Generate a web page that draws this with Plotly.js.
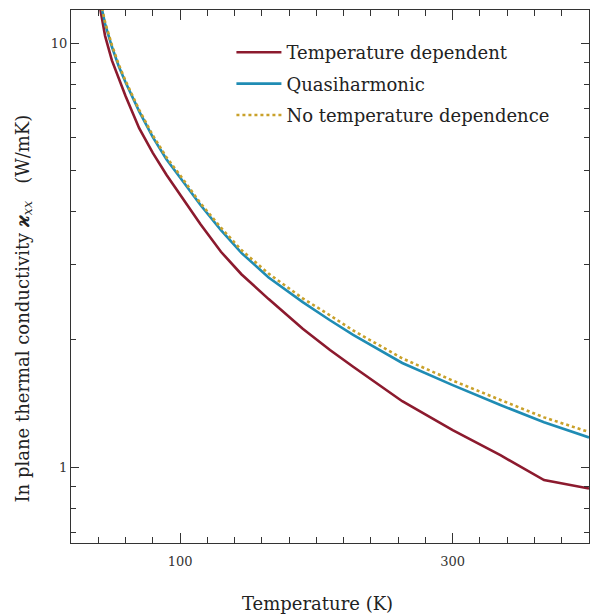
<!DOCTYPE html>
<html>
<head>
<meta charset="utf-8">
<script src="https://cdn.plot.ly/plotly-3.0.1.min.js"></script>
<style>html,body{margin:0;padding:0;background:#fff;}#chart{width:590px;height:614px;}</style>
</head>
<body>
<div id="chart"></div>
<script>
// Temperature grid (K)
const temperature = [40, 45, 50, 55, 60, 70, 80, 90, 100, 115, 130, 145, 165, 190, 210, 227, 263, 300, 335, 367, 400];
// In-plane thermal conductivity kappa_xx (W/mK)
const kappaTempDependent = [12.8, 10.4, 9.1, 8.22, 7.50, 6.30, 5.51, 4.89, 4.39, 3.74, 3.22, 2.85, 2.49, 2.12, 1.888, 1.724, 1.43, 1.223, 1.067, 0.932, 0.89];
const kappaQuasiharmonic = [13.2, 11.1, 9.8, 8.82, 8.08, 6.90, 6.00, 5.32, 4.82, 4.15, 3.62, 3.20, 2.80, 2.45, 2.22, 2.05, 1.76, 1.561, 1.401, 1.276, 1.175];
const kappaNoTempDep = [13.3, 11.2, 9.9, 8.9, 8.15, 6.96, 6.06, 5.38, 4.88, 4.19, 3.67, 3.25, 2.86, 2.50, 2.28, 2.10, 1.805, 1.60, 1.44, 1.31, 1.21];
const seriesNames = ["Temperature dependent", "Quasiharmonic", "No temperature dependence"];
const xTitle = "Temperature (K)";
const yTitle = "In plane thermal conductivity <b><i>ϰ</i></b><sub><i>xx</i></sub>\u00a0\u00a0\u00a0(W/mK)";

const FONT = "DejaVu Serif, Liberation Serif, serif";
const INK = "#333333";

const traces = [
  {x: temperature, y: kappaTempDependent, name: seriesNames[0], mode: "lines",
   line: {color: "#8c1a2e", width: 2.6}, legendgroup: "a"},
  {x: temperature, y: kappaQuasiharmonic, name: seriesNames[1], mode: "lines",
   line: {color: "#1f8cb4", width: 2.6}, legendgroup: "b"},
  {x: temperature, y: kappaNoTempDep, name: seriesNames[2], mode: "lines",
   line: {color: "#c9a12a", width: 2.6, dash: "dot"}, legendgroup: "c"}
];

const layout = {
  width: 590, height: 614,
  margin: {l: 71, r: 1, t: 10, b: 71},
  paper_bgcolor: "#ffffff", plot_bgcolor: "#ffffff",
  font: {family: FONT, color: INK},
  xaxis: {
    type: "linear", range: [20, 400], tickmode: "linear", tick0: 100, dtick: 200,
    showgrid: false, zeroline: false, showline: true, linecolor: INK, linewidth: 1.4,
    mirror: "allticks", ticks: "inside", ticklen: 10, tickwidth: 1.4, tickcolor: INK,
    ticklabelstandoff: 6,
    tickfont: {family: FONT, size: 13, color: INK},
    minor: {ticks: "inside", ticklen: 6, tickwidth: 1.2, tickcolor: INK, dtick: 20, showgrid: false}
  },
  yaxis: {
    type: "log", range: [-0.179, 1.078], tickmode: "linear", tick0: 0, dtick: 1,
    showgrid: false, zeroline: false, showline: true, linecolor: INK, linewidth: 1.4,
    mirror: "allticks", ticks: "inside", ticklen: 8, tickwidth: 1.4, tickcolor: INK,
    tickfont: {family: FONT, size: 13, color: INK},
    minor: {ticks: "inside", ticklen: 5, tickwidth: 1.2, tickcolor: INK, dtick: "D1", showgrid: false}
  },
  showlegend: true,
  legend: {
    x: 0.3097, y: 0.955, xanchor: "left", yanchor: "top",
    bgcolor: "rgba(0,0,0,0)", borderwidth: 0,
    font: {family: FONT, size: 18, color: "#222"},
    traceorder: "grouped", tracegroupgap: 5, itemwidth: 45
  },
  annotations: [
    {text: xTitle, xref: "paper", yref: "paper", x: 0.475, y: -0.113,
     xanchor: "center", yanchor: "middle", showarrow: false,
     font: {family: FONT, size: 18, color: "#222"}},
    {text: yTitle, xref: "paper", yref: "paper", x: -0.0907, y: 0.44, textangle: -90,
     xanchor: "center", yanchor: "middle", showarrow: false,
     font: {family: FONT, size: 18, color: "#222"}}
  ]
};

Plotly.newPlot("chart", traces, layout, {displayModeBar: false});
</script>
</body>
</html>
